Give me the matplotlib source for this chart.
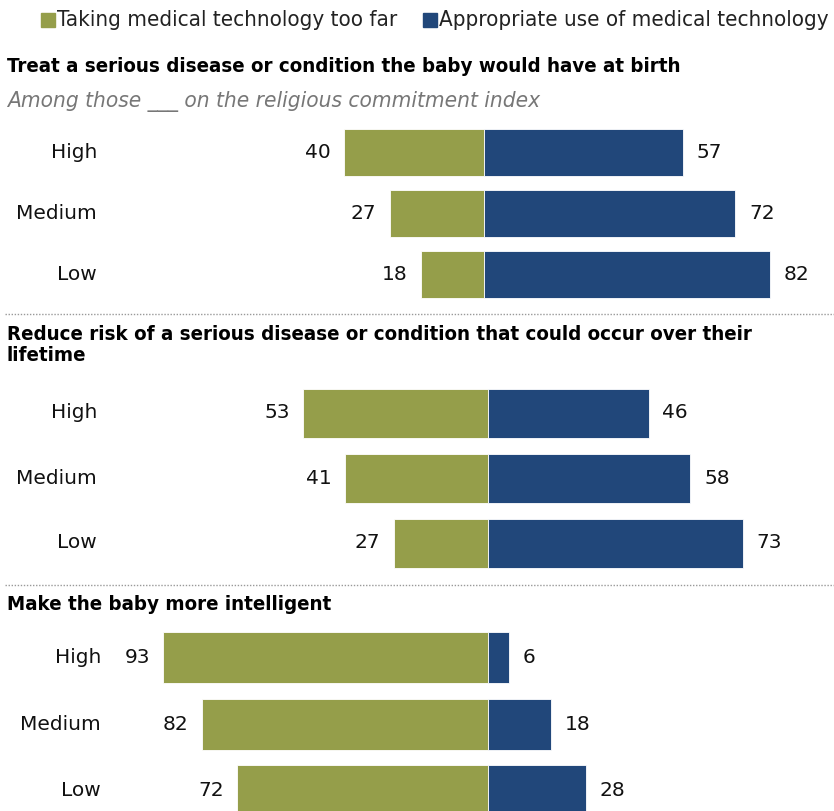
import matplotlib
matplotlib.use("Agg")
import matplotlib.pyplot as plt
from matplotlib import font_manager
from matplotlib.transforms import blended_transform_factory

# ---- data -------------------------------------------------------------
rows = ["High", "Medium", "Low"]

treat_too_far = [40, 27, 18]
treat_appropriate = [57, 72, 82]

reduce_too_far = [53, 41, 27]
reduce_appropriate = [46, 58, 73]

intel_too_far = [93, 82, 72]
intel_appropriate = [6, 18, 28]

legend_labels = ["Taking medical technology too far",
                 "Appropriate use of medical technology"]
panel_titles = [
    "Treat a serious disease or condition the baby would have at birth",
    "Reduce risk of a serious disease or condition that could occur over their\nlifetime",
    "Make the baby more intelligent",
]
subtitle = "Among those ___ on the religious commitment index"

GREEN = "#959E4A"
BLUE = "#21477A"

# ---- fonts --------------------------------------------------------------
names = {f.name for f in font_manager.fontManager.ttflist}
if "Liberation Sans Narrow" in names:
    COND = dict(family="Liberation Sans Narrow")
else:
    COND = dict(family="DejaVu Sans", stretch="condensed")
BODY = dict(family="DejaVu Sans")

W, H = 834, 811
fig = plt.figure(figsize=(W / 100, H / 100), dpi=100)
PX = 3.49  # pixels per percentage point


def fy(y):
    return 1 - y / H


def fx(x):
    return x / W


# ---- legend -------------------------------------------------------------
for x0, label, col in [(41, legend_labels[0], GREEN), (423, legend_labels[1], BLUE)]:
    fig.patches.append(plt.Rectangle((fx(x0), fy(26.5)), fx(14), 13.5 / H,
                                     transform=fig.transFigure, color=col))
    fig.text(fx(x0 + 16), fy(20), label, fontsize=16, va="center", ha="left",
             color="#222222", **COND)

# ---- separators ---------------------------------------------------------
for ysep in (314, 585):
    fig.add_artist(plt.Line2D([fx(5), 1], [fy(ysep), fy(ysep)],
                              transform=fig.transFigure, color="#999999",
                              lw=1.0, ls=(0, (1, 1.2))))

# ---- titles -------------------------------------------------------------
TSIZE = 14.65
fig.text(fx(7), fy(66), panel_titles[0], fontsize=TSIZE, fontweight="bold",
         va="center", ha="left", color="black", **COND)
fig.text(fx(7), fy(101), subtitle, fontsize=16.2, style="italic",
         va="center", ha="left", color="#777777", **COND)
fig.text(fx(7), fy(345), panel_titles[1], fontsize=TSIZE, fontweight="bold",
         va="center", ha="left", color="black", linespacing=1.12, **COND)
fig.text(fx(7), fy(604), panel_titles[2], fontsize=TSIZE, fontweight="bold",
         va="center", ha="left", color="black", **COND)

# ---- panels -------------------------------------------------------------
panels = [
    (treat_too_far, treat_appropriate, 484, 152.5, 61.0, 47, 97),
    (reduce_too_far, reduce_appropriate, 488, 413, 65.0, 49, 97),
    (intel_too_far, intel_appropriate, 488, 657.5, 66.5, 51, 101),
]

for far, ok, cx, c0, step, bh, lab_x in panels:
    top = c0 - step / 2
    bottom = c0 + 2.5 * step
    ax = fig.add_axes([0, fy(bottom), 1, (bottom - top) / H])
    ax.set_xlim(-cx / PX, (W - cx) / PX)
    ax.set_ylim(2.5, -0.5)
    ax.axis("off")
    ypos = list(range(len(rows)))
    hfrac = bh / step
    ax.barh(ypos, [-v for v in far], height=hfrac, color=GREEN,
            edgecolor="white", linewidth=0.6)
    ax.barh(ypos, ok, height=hfrac, color=BLUE,
            edgecolor="white", linewidth=0.6)
    tr = blended_transform_factory(fig.transFigure, ax.transData)
    for i, r in enumerate(rows):
        ax.text(fx(lab_x), i, r, transform=tr, ha="right", va="center",
                fontsize=14.5, color="#111111", **BODY)
        ax.annotate(str(far[i]), (-far[i], i), xytext=(-9.5, 0),
                    textcoords="offset points", ha="right", va="center",
                    fontsize=14.5, color="#111111", **BODY)
        ax.annotate(str(ok[i]), (ok[i], i), xytext=(10, 0),
                    textcoords="offset points", ha="left", va="center",
                    fontsize=14.5, color="#111111", **BODY)

fig.savefig("out.png", dpi=100)
